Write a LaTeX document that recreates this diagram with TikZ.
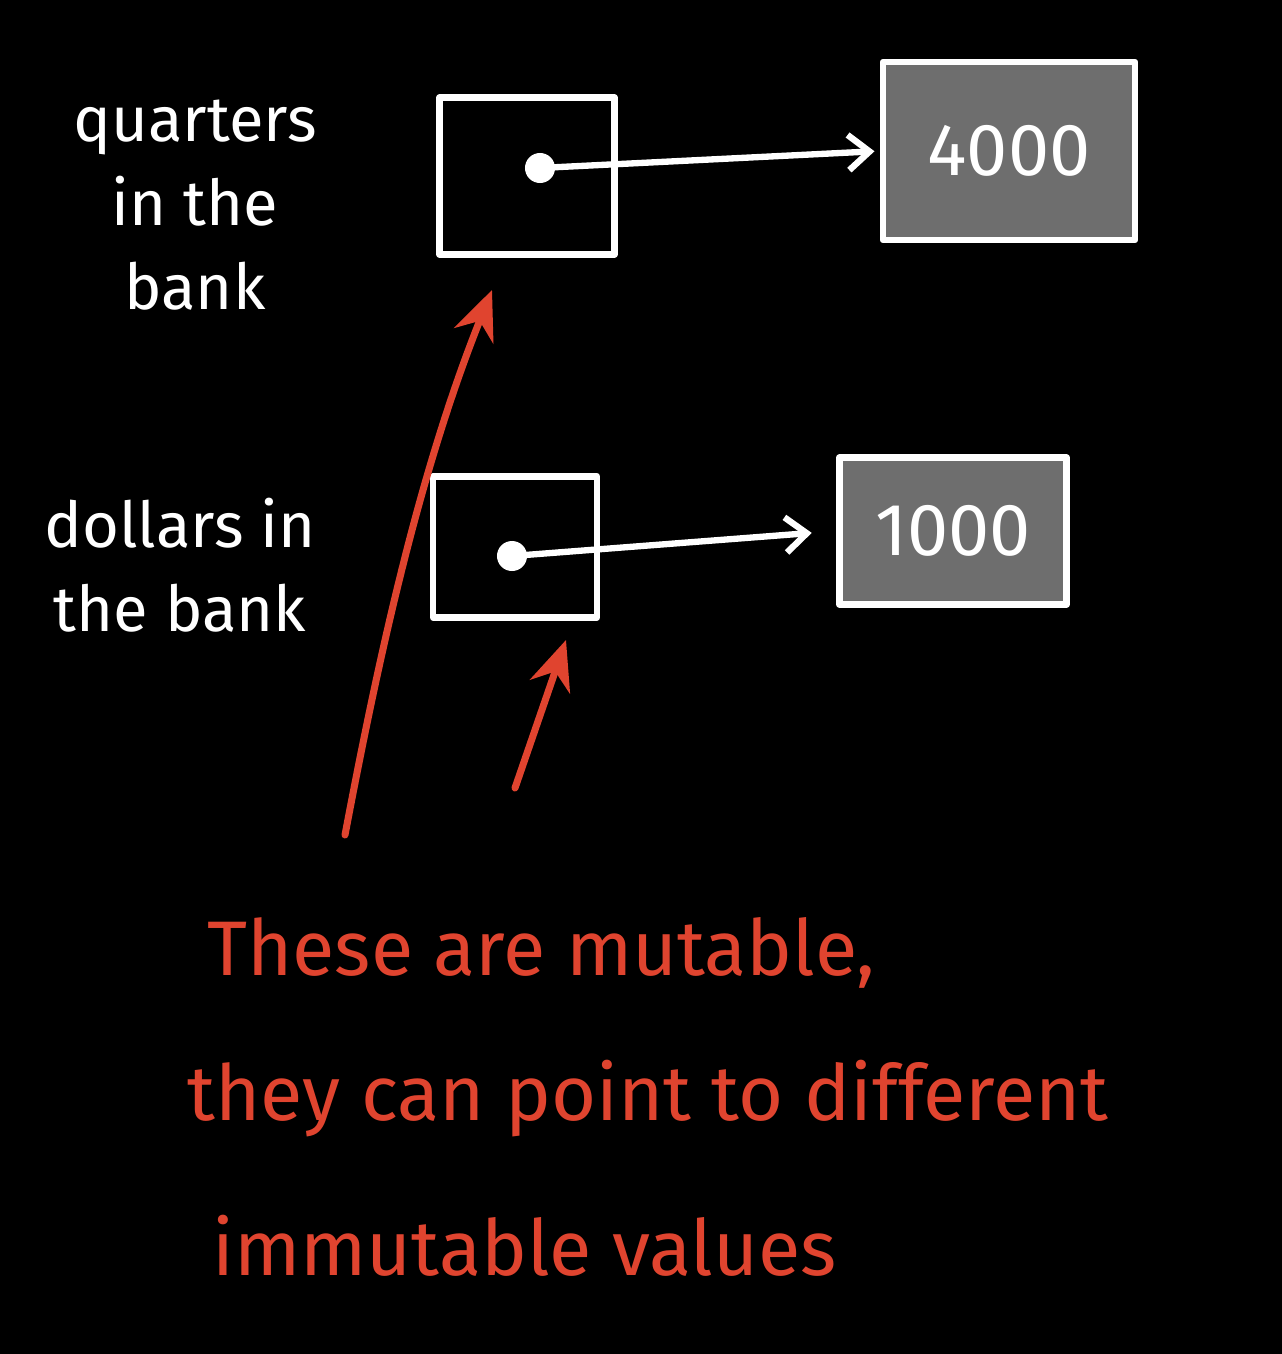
\documentclass[tikz,border=0pt]{standalone}
\usepackage{fontspec}
\setmainfont{Fira Sans}
\usetikzlibrary{arrows.meta}
\definecolor{redink}{HTML}{E0442F}
\definecolor{valgray}{HTML}{6E6E6E}
\begin{document}
\begin{tikzpicture}[x=0.01cm,y=-0.01cm,
  ink/.style={draw=white,line width=1.8pt,line cap=round,line join=round},
  ptrbox/.style={ink,rectangle,inner sep=0pt},
  valbox/.style={ink,fill=valgray,rectangle,inner sep=0pt,text=white,font=\fontsize{21}{25}\selectfont},
  dotnode/.style={circle,fill=white,inner sep=0pt,minimum size=0.3cm},
  ptr/.style={ink,-{Straight Barb[length=6pt,width=10pt,line width=1.8pt]}},
  redarrow/.style={draw=redink,line width=2pt,line cap=round,-{Stealth[length=14pt,width=12pt]}},
  wlabel/.style={text=white,align=center,font=\fontsize{18}{24}\selectfont},
  rlabel/.style={text=redink,anchor=base west,font=\fontsize{22}{26}\selectfont}]
\useasboundingbox[fill=black] (0,0) rectangle (1282,1354);
% labels
\node[wlabel] (lq) at (195,205) {quarters\\in the\\bank};
\node[wlabel] (ld) at (180,565) {dollars in\\the bank};
% pointer boxes
\node[ptrbox,minimum width=1.75cm,minimum height=1.57cm] (b1) at (527,176) {};
\node[ptrbox,minimum width=1.64cm,minimum height=1.41cm] (b2) at (515,547) {};
\node[dotnode] (d1) at (540,168) {};
\node[dotnode] (d2) at (512,556) {};
% value boxes
\node[valbox,minimum width=2.52cm,minimum height=1.78cm] (v1) at (1009,151) {4000};
\node[valbox,minimum width=2.27cm,minimum height=1.47cm] (v2) at (953,531) {1000};
% pointers
\draw[ptr,shorten >=1.5pt] (d1.center) -- (v1.west);
\draw[ptr,shorten >=7pt] (d2.center) -- (v2.west);
% red annotation arrows
\coordinate (r1s) at (345,835);
\coordinate (r1e) at (492,290);
\coordinate (r2s) at (515,788);
\coordinate (r2e) at (566,640);
\draw[redarrow] (r1s) .. controls (380,650) and (420,470) .. (r1e);
\draw[redarrow] (r2s) -- (r2e);
% red text
\node[rlabel] (t1) at (195,975) {These are mutable,};
\node[rlabel] (t2) at (175,1120) {they can point to different};
\node[rlabel] (t3) at (200,1275) {immutable values};
\end{tikzpicture}
\end{document}
